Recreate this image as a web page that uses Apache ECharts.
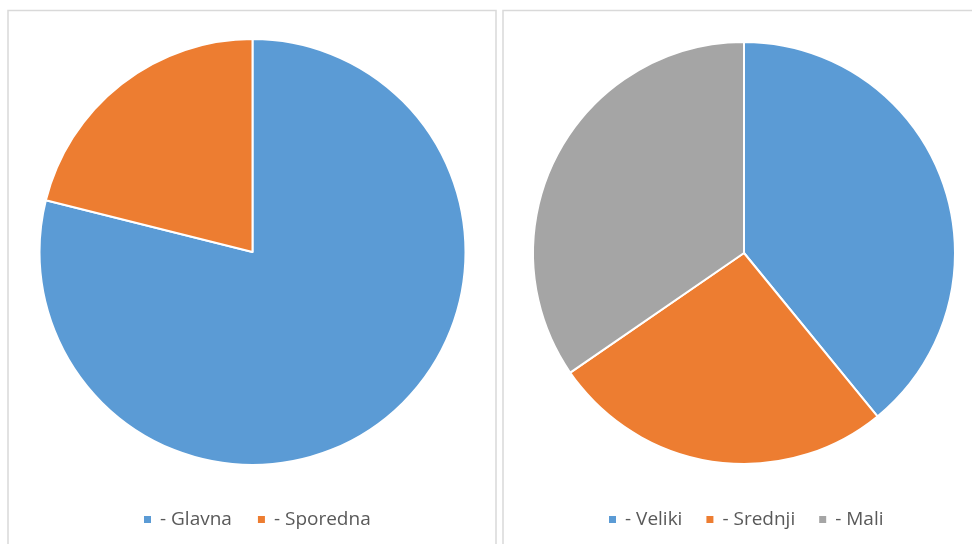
<!DOCTYPE html>
<html>
<head>
<meta charset="utf-8">
<script src="https://cdn.jsdelivr.net/npm/echarts@6/dist/echarts.min.js"></script>
<style>
  html, body { margin: 0; padding: 0; background: #fff; }
  #chart { width: 972px; height: 544px; }
</style>
</head>
<body>
<div id="chart"></div>
<script>
// left pie: vrsta
var leftNames = ["Glavna", "Sporedna"];
var leftValues = [78.9, 21.1];
// right pie: velicina
var rightNames = ["Veliki", "Srednji", "Mali"];
var rightValues = [39.1, 26.3, 34.6];

var colors = ["#5b9bd5", "#ed7d31", "#a5a5a5"];

function toData(names, values) {
    var out = [];
    for (var i = 0; i < names.length; i++) {
        out.push({ name: names[i], value: values[i], itemStyle: { color: colors[i] } });
    }
    return out;
}

var legendText = {
    color: "#595959",
    fontSize: 19,
    fontFamily: "Open Sans",
    padding: [0, 0, 0, 3]
};

var chart = echarts.init(document.getElementById("chart"));
var option = {
    animation: false,
    graphic: [
        { type: "rect", shape: { x: 8, y: 10.5, width: 488, height: 560 },
          style: { fill: "none", stroke: "#d9d9d9", lineWidth: 1.5 } },
        { type: "rect", shape: { x: 503, y: 10.5, width: 480, height: 560 },
          style: { fill: "none", stroke: "#d9d9d9", lineWidth: 1.5 } }
    ],
    legend: [
        {
            data: leftNames,
            left: 137, top: 505,
            icon: "rect", itemWidth: 9, itemHeight: 9, itemGap: 24,
            formatter: function (n) { return "- " + n; },
            textStyle: legendText
        },
        {
            data: rightNames,
            left: 602, top: 505,
            icon: "rect", itemWidth: 9, itemHeight: 9, itemGap: 22,
            formatter: function (n) { return "- " + n; },
            textStyle: legendText
        }
    ],
    series: [
        {
            type: "pie",
            center: [252.5, 252],
            radius: [0, 213],
            startAngle: 90,
            clockwise: true,
            label: { show: false },
            labelLine: { show: false },
            itemStyle: { borderColor: "#fff", borderWidth: 2 },
            emphasis: { disabled: true },
            data: toData(leftNames, leftValues)
        },
        {
            type: "pie",
            center: [744, 253],
            radius: [0, 211],
            startAngle: 90,
            clockwise: true,
            label: { show: false },
            labelLine: { show: false },
            itemStyle: { borderColor: "#fff", borderWidth: 2 },
            emphasis: { disabled: true },
            data: toData(rightNames, rightValues)
        }
    ]
};
chart.setOption(option);
</script>
</body>
</html>
